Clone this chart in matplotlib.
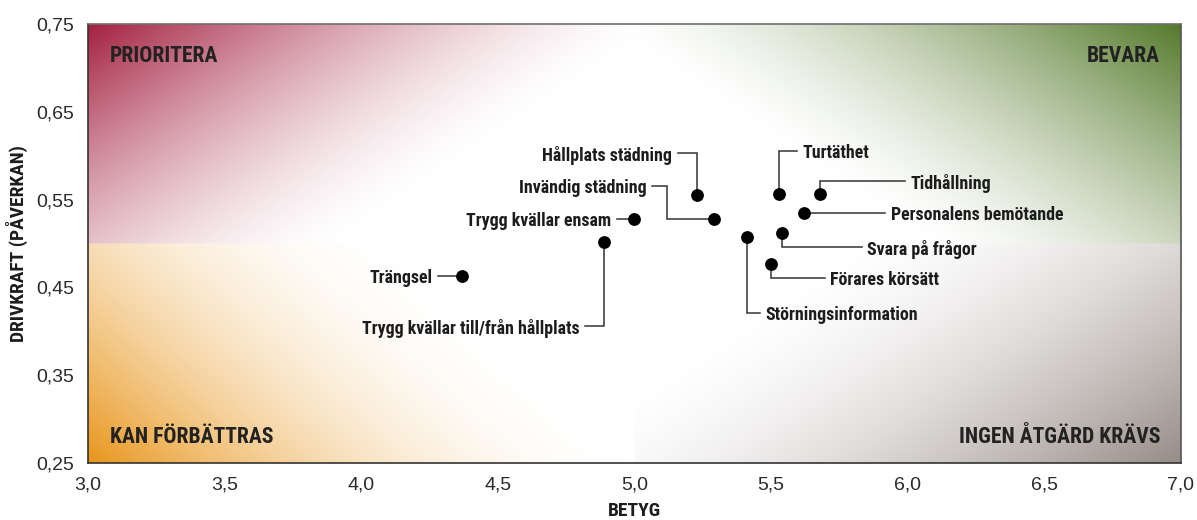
import numpy as np
import matplotlib
matplotlib.use('Agg')
import matplotlib.pyplot as plt
from matplotlib import font_manager
from matplotlib.colors import to_rgb

# survey items: betyg (x) and drivkraft (y)
names = ['Hållplats städning', 'Invändig städning', 'Trygg kvällar ensam',
         'Trygg kvällar till/från hållplats', 'Trängsel', 'Störningsinformation',
         'Turtäthet', 'Tidhållning', 'Personalens bemötande',
         'Svara på frågor', 'Förares körsätt']
betyg = [5.23, 5.29, 5.00, 4.89, 4.37, 5.41, 5.53, 5.68, 5.62, 5.54, 5.50]
drivkraft = [0.555, 0.528, 0.528, 0.502, 0.463, 0.507, 0.556, 0.556, 0.535, 0.512, 0.477]

x_ticks = [3.0, 3.5, 4.0, 4.5, 5.0, 5.5, 6.0, 6.5, 7.0]
y_ticks = [0.25, 0.35, 0.45, 0.55, 0.65, 0.75]

quadrants = ['PRIORITERA', 'BEVARA', 'KAN FÖRBÄTTRAS', 'INGEN ÅTGÄRD KRÄVS']

# label placement: where the leader line ends (x, y), which side the text sits,
# and an optional x for an extra bend in the leader
label_pos = {
    'Hållplats städning': (5.159, 0.603, 'left', None),
    'Invändig städning': (5.064, 0.566, 'left', 5.118),
    'Trygg kvällar ensam': (4.935, None, 'left', None),
    'Trygg kvällar till/från hållplats': (4.819, 0.406, 'left', None),
    'Trängsel': (4.281, None, 'left', None),
    'Störningsinformation': (5.459, 0.421, 'right', None),
    'Turtäthet': (5.594, 0.605, 'right', None),
    'Tidhållning': (5.990, 0.571, 'right', None),
    'Personalens bemötande': (5.917, None, 'right', None),
    'Svara på frågor': (5.831, 0.496, 'right', None),
    'Förares körsätt': (5.697, 0.461, 'right', None),
}

xlim = (3.0, 7.0)
ylim = (0.25, 0.75)


def first_font(candidates):
    have = {f.name for f in font_manager.fontManager.ttflist}
    for c in candidates:
        if c in have:
            return c
    return 'DejaVu Sans'


NARROW = first_font(['Roboto Condensed', 'Liberation Sans Narrow', 'Roboto', 'Lato'])
BOLD = [NARROW, 'DejaVu Sans']
REG = [first_font(['Liberation Sans', 'Roboto']), 'DejaVu Sans']
INK = '#1c1c1c'
LINE = '#333333'
narrow = NARROW in ('Roboto Condensed', 'Liberation Sans Narrow')
LBL_SIZE = 12.9 if narrow else 11.5
Q_SIZE = 15.6 if narrow else 13.5
AX_SIZE = 14 if narrow else 12.5


def quadrant_image(w, h, corner, flip_x, flip_y, gamma=1.5, wv=0.6, reach=1.05):
    # diagonal fade from the outer corner, white close to the chart centre
    u = np.linspace(0, 1, w)[None, :]
    v = np.linspace(0, 1, h)[:, None]
    if flip_x:
        u = u[:, ::-1]
    if flip_y:
        v = v[::-1, :]
    s = np.clip((u + wv * v) / reach, 0, 1)
    f = (1 - s) ** gamma
    c = np.array(to_rgb(corner))
    return 1 - (1 - c)[None, None, :] * f[:, :, None]


def gradient_background(ax):
    w, h = 546, 220
    tl = quadrant_image(w, h, '#a3203f', False, False, gamma=1.5)
    tr = quadrant_image(w, h, '#557a2b', True, False, gamma=1.4)
    bl = quadrant_image(w, h, '#e8951a', False, True, gamma=1.9, wv=0.45, reach=1.0)
    br = quadrant_image(w, h, '#978c87', True, True, gamma=1.6, reach=1.2)
    img = np.vstack([np.hstack([tl, tr]), np.hstack([bl, br])])
    ax.imshow(img, extent=[xlim[0], xlim[1], ylim[0], ylim[1]],
              origin='upper', aspect='auto', zorder=0, interpolation='bilinear')


fig = plt.figure(figsize=(11.97, 5.2), dpi=100)
ax = fig.add_axes([0.0735, 0.1096, 0.9131, 0.8442])

gradient_background(ax)

# leaders and labels
for name, x, y in zip(names, betyg, drivkraft):
    lx, ly, side, bend = label_pos[name]
    if ly is None:
        ly = y
    ex = x if bend is None else bend
    ax.plot([lx, ex, ex, x], [ly, ly, y, y], color=LINE, lw=1.1, zorder=2,
            solid_joinstyle='miter')
    dx = -4 if side == 'left' else 4
    ax.annotate(name, xy=(lx, ly), xytext=(dx, 0), textcoords='offset points',
                ha='right' if side == 'left' else 'left', va='center_baseline',
                fontsize=LBL_SIZE, fontweight='bold', family=BOLD, color=INK, zorder=4)

ax.scatter(betyg, drivkraft, s=85, color='black', zorder=3, linewidths=0)

# quadrant titles
qkw = dict(transform=ax.transAxes, fontsize=Q_SIZE, fontweight='bold', family=BOLD,
           color='#222222', va='center_baseline')
ax.text(0.020, 0.932, quadrants[0], ha='left', **qkw)
ax.text(0.981, 0.932, quadrants[1], ha='right', **qkw)
ax.text(0.020, 0.064, quadrants[2], ha='left', **qkw)
ax.text(0.981, 0.064, quadrants[3], ha='right', **qkw)

ax.set_xlim(*xlim)
ax.set_ylim(*ylim)
ax.set_xticks(x_ticks)
ax.set_yticks(y_ticks)
ax.set_xticklabels([f'{t:.1f}'.replace('.', ',') for t in x_ticks], family=REG, fontsize=14)
ax.set_yticklabels([f'{t:.2f}'.replace('.', ',') for t in y_ticks], family=REG, fontsize=14)
ax.tick_params(length=0, pad=10, colors='#2a2a2a')

ax.set_xlabel('BETYG', fontsize=AX_SIZE, fontweight='bold', family=BOLD, color=INK,
              labelpad=6)
ax.set_ylabel('DRIVKRAFT (PÅVERKAN)', fontsize=AX_SIZE, fontweight='bold', family=BOLD,
              color=INK, labelpad=6)

for side, col in [('left', '#333333'), ('bottom', '#333333'),
                  ('top', '#6f6f6f'), ('right', '#555555')]:
    ax.spines[side].set_color(col)
    ax.spines[side].set_linewidth(1.2)
    ax.spines[side].set_zorder(5)

fig.savefig('out.png', dpi=100)
